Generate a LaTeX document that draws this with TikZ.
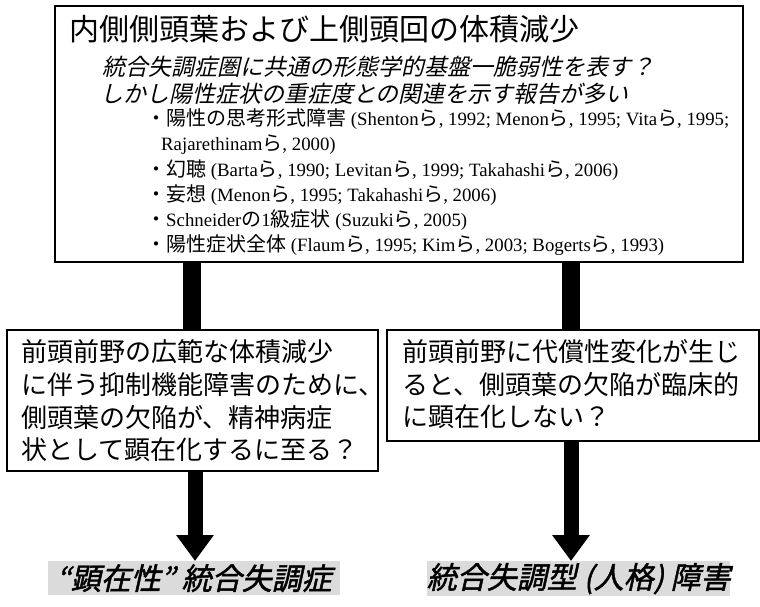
\documentclass[tikz,border=0pt]{standalone}
\usepackage{fontspec}
\setmainfont{Liberation Serif}
\newfontfamily\jp{Noto Sans CJK JP}
\newfontfamily\jpi{Noto Sans CJK JP}[FakeSlant=0.22]
\newfontfamily\jpbi{Noto Sans CJK JP}[FakeSlant=0.22,FakeBold=1.5]
\usetikzlibrary{arrows.meta}
\newcommand\J[1]{{\jp\fontsize{20}{20}\selectfont #1}}
\begin{document}
\begin{tikzpicture}[x=1pt,y=-1pt,
  box/.style={draw, line width=1.6pt, inner sep=0, anchor=north west},
  bar/.style={line width=18pt},
  arr/.style={line width=15pt, -{Triangle[width=36pt,length=26pt]}},
  lab/.style={fill=gray!28, inner sep=0, anchor=north west},
  tx/.style={anchor=west, inner sep=0},
  ttl/.style={tx, font=\jp\fontsize{30}{30}\selectfont},
  ital/.style={tx, font=\jpi\fontsize{23}{23}\selectfont},
  bul/.style={tx, font=\fontsize{18.8}{18.8}\selectfont},
  mid/.style={tx, font=\jp\fontsize{26}{26}\selectfont},
  labt/.style={font=\jpbi\fontsize{30}{30}\selectfont, inner sep=0}]
\useasboundingbox (0,0) rectangle (760,606);
% top box
\node[box, minimum width=688pt, minimum height=256pt] (top) at (54,5) {};
\node[ttl] (t1) at (69,29) {内側側頭葉および上側頭回の体積減少};
\node[ital] (t2) at (102,67) {統合失調症圏に共通の形態学的基盤一脆弱性を表す？};
\node[ital] (t3) at (100,94) {しかし陽性症状の重症度との関連を示す報告が多い};
\node[bul] (b1) at (146,119) {\J{・陽性の思考形式障害} (Shenton\J{ら}, 1992; Menon\J{ら}, 1995; Vita\J{ら}, 1995;};
\node[bul] (b1b) at (161,144.5) {Rajarethinam\J{ら}, 2000)};
\node[bul] (b2) at (146,170) {\J{・幻聴} (Barta\J{ら}, 1990; Levitan\J{ら}, 1999; Takahashi\J{ら}, 2006)};
\node[bul] (b3) at (146,195) {\J{・妄想} (Menon\J{ら}, 1995; Takahashi\J{ら}, 2006)};
\node[bul] (b4) at (146,220) {\J{・}Schneider\J{の}1\J{級症状} (Suzuki\J{ら}, 2005)};
\node[bul] (b5) at (146,245) {\J{・陽性症状全体} (Flaum\J{ら}, 1995; Kim\J{ら}, 2003; Bogerts\J{ら}, 1993)};
% middle boxes
\node[box, minimum width=371pt, minimum height=141pt] (left) at (6,329) {};
\node[box, minimum width=372pt, minimum height=111pt] (right) at (386,329) {};
\node[mid] (l1) at (21,352) {前頭前野の広範な体積減少};
\node[mid] (l2) at (21,385) {に伴う抑制機能障害のために、};
\node[mid] (l3) at (21,418) {側頭葉の欠陥が、精神病症};
\node[mid] (l4) at (21,450) {状として顕在化するに至る？};
\node[mid] (r1) at (402,352) {前頭前野に代償性変化が生じ};
\node[mid] (r2) at (402,385) {ると、側頭葉の欠陥が臨床的};
\node[mid] (r3) at (402,417) {に顕在化しない？};
% bars
\draw[bar] (top.south -| 192,0) -- (left.north -| 192,0);
\draw[bar] (top.south -| 571,0) -- (right.north -| 571,0);
% bottom labels
\node[lab, minimum width=292pt, minimum height=34pt] (ll) at (48,561) {};
\node[labt] (llt) at (ll.center) {“顕在性” 統合失調症};
\node[lab, minimum width=303pt, minimum height=35pt] (rl) at (427,561) {};
\node[labt] (rlt) at (rl.center) {統合失調型 (人格) 障害};
% arrows
\draw[arr] (left.south -| 195,0) -- (ll.north -| 195,0);
\draw[arr] (right.south -| 571,0) -- (rl.north -| 571,0);
\end{tikzpicture}
\end{document}
